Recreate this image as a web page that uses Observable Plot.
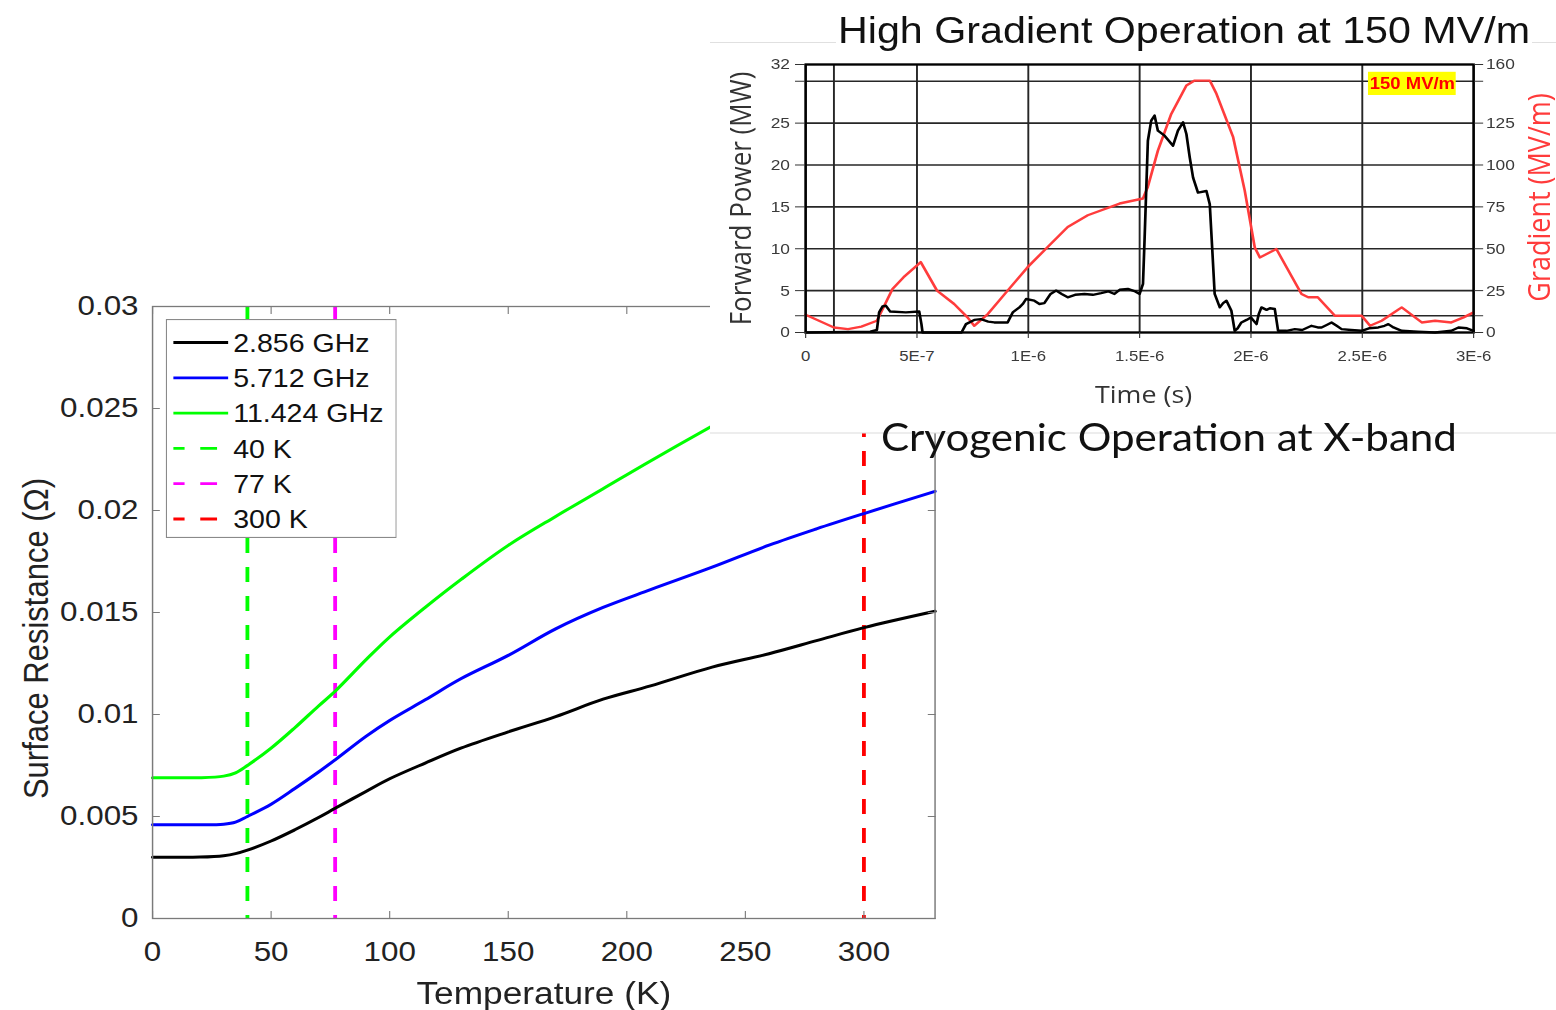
<!DOCTYPE html>
<html><head><meta charset="utf-8">
<script src="https://cdn.jsdelivr.net/npm/d3@7"></script>
<script src="https://cdn.jsdelivr.net/npm/@observablehq/plot@0.6"></script>
<style>
html,body{margin:0;padding:0;background:#fff;overflow:hidden;}
#root{position:relative;width:1389.29px;height:1010px;transform:scaleX(1.12);transform-origin:0 0;}
.abs{position:absolute;}
</style></head>
<body><div id="root"></div>
<script>
// ---------- main chart: surface resistance vs temperature ----------
const temperatures = [0,10,20,30,35,40,50,60,70,77,90,100,115,130,150,170,190,210,236,260,280,300,330];
const rs2856  = [0.00300,0.00300,0.00301,0.00308,0.00318,0.00335,0.00380,0.00435,0.00495,0.00540,0.00623,0.00685,0.00762,0.00835,0.00915,0.00990,0.01075,0.01140,0.01232,0.01298,0.01362,0.01426,0.01506];
const rs5712  = [0.00460,0.00460,0.00459,0.00462,0.00472,0.00500,0.00560,0.00637,0.00718,0.00778,0.00893,0.00971,0.01072,0.01175,0.01290,0.01420,0.01525,0.01612,0.01722,0.01830,0.01910,0.01985,0.02094];
const rs11424 = [0.00690,0.00690,0.00690,0.00698,0.00714,0.00750,0.00835,0.00935,0.01042,0.01114,0.01268,0.01380,0.01525,0.01661,0.01829,0.01971,0.02107,0.02243,0.02414];
const seriesNames  = ["2.856 GHz","5.712 GHz","11.424 GHz"];
const seriesColors = ["#000000","#0000ff","#00ff00"];
const markerTemps  = [40,77,300];
const markerNames  = ["40 K","77 K","300 K"];
const markerColors = ["#00ff00","#ff00ff","#ff0000"];
const xTicks = [0,50,100,150,200,250,300];
const yTicks = [0,0.005,0.01,0.015,0.02,0.025,0.03];
const yTickLabels = ["0","0.005","0.01","0.015","0.02","0.025","0.03"];

// ---------- inset: high gradient operation ----------
const powerTime = [0,0.29,0.32,0.33,0.345,0.36,0.38,0.45,0.51,0.52,0.525,0.70,0.72,0.757,0.787,0.82,0.847,0.907,0.93,0.96,0.975,0.99,1.027,1.05,1.072,1.10,1.125,1.15,1.177,1.21,1.252,1.29,1.327,1.36,1.387,1.41,1.447,1.48,1.50,1.515,1.522,1.537,1.552,1.567,1.582,1.612,1.65,1.672,1.695,1.71,1.725,1.74,1.762,1.80,1.815,1.826,1.837,1.86,1.875,1.89,1.912,1.927,1.94,1.957,1.98,2.0,2.025,2.035,2.047,2.07,2.085,2.107,2.122,2.16,2.197,2.23,2.272,2.30,2.317,2.34,2.362,2.385,2.407,2.45,2.497,2.53,2.572,2.60,2.617,2.64,2.677,2.75,2.827,2.90,2.932,2.97,3.0];
const forwardPower = [0,0.1,0.3,2.4,3.1,3.2,2.5,2.4,2.5,1.0,0,0,1.0,1.5,1.6,1.3,1.2,1.2,2.4,3.0,3.4,4.0,3.8,3.4,3.5,4.6,5.0,4.6,4.2,4.5,4.6,4.5,4.7,4.9,4.6,5.1,5.2,4.9,4.6,5.8,11,22.9,25.3,25.9,24.1,23.5,22.3,24.1,25.1,23.7,20.9,18.5,16.7,16.9,15.3,10,4.6,3.0,3.5,3.8,2.6,0.2,0.5,1.2,1.5,1.8,1.0,2.2,3.0,2.7,2.9,2.8,0.2,0.2,0.4,0.3,0.8,0.6,0.6,0.9,1.2,0.8,0.4,0.3,0.2,0.5,0.6,0.8,1.0,0.6,0.2,0.1,0,0.2,0.6,0.5,0.2];
const gradientTime = [0,0.127,0.19,0.25,0.32,0.39,0.44,0.517,0.59,0.667,0.727,0.757,0.818,0.907,0.997,1.087,1.177,1.267,1.41,1.515,1.537,1.582,1.642,1.71,1.747,1.815,1.845,1.92,1.972,2.017,2.04,2.114,2.227,2.257,2.30,2.377,2.497,2.535,2.587,2.677,2.767,2.827,2.90,2.955,3.0];
const gradient = [10.6,3,2,3.5,7,26,33,42,25,17,9,4,11,25,39,51,63,70,77,80,87,108.6,130.5,147.5,150.4,150.4,142.5,116.6,84.7,50.8,44.8,49.8,23,21,21,10,10,4,7,15,6,7,6,9,12];
const timeTicks = [0,0.5,1,1.5,2,2.5,3];           // microseconds
const timeTickLabels = ["0","5E-7","1E-6","1.5E-6","2E-6","2.5E-6","3E-6"];
const cursorTimes = [0.127];
const powerTicks = [0,5,10,15,20,25,32];
const powerMinorTicks = [2,30];
const gradientTicks = [0,25,50,75,100,125,160];
const gradientMinorTicks = [10,150];
const gradientPerMW = 5;   // 32 MW <-> 160 MV/m
const annotations = [{t: 2.725, gradient: 150, label: "150 MV/m"}];

const S = 1.12;   // horizontal stretch of the whole picture
const root = document.getElementById("root");
const sans = "'Liberation Sans', Arial, Helvetica, sans-serif";
const humanist = "'Open Sans', 'Noto Sans', sans-serif";

// ---------- build main ----------
const rows = [];
[rs2856, rs5712, rs11424].forEach((vals, k) => {
  vals.forEach((r, i) => rows.push({series: seriesNames[k], T: temperatures[i], R: r}));
});
const markers = markerTemps.map((t, i) => ({T: t, name: markerNames[i]}));

const mainW = 870;
const mainLeft = 152 / S, mainRight = 934.5 / S;
const main = Plot.plot({
  width: mainW, height: 1010,
  marginLeft: mainLeft, marginRight: mainW - mainRight, marginTop: 306, marginBottom: 92,
  x: {domain: [0, 330]},
  y: {domain: [0, 0.03]},
  color: {domain: [...seriesNames, ...markerNames], range: [...seriesColors, ...markerColors]},
  style: {fontFamily: sans, background: "white", overflow: "visible"},
  marks: [
    Plot.ruleX(markers, {x: "T", stroke: "name", strokeWidth: 3.4, strokeDasharray: "15,14"}),
    Plot.line(rows, {x: "T", y: "R", z: "series", stroke: "series", strokeWidth: 3, curve: "catmull-rom"}),
    Plot.frame({stroke: "#7a7a7a", strokeWidth: 1.3}),
    Plot.axisX({ticks: xTicks, tickFormat: d => String(d), tickSize: -7, tickPadding: 30, fontSize: 28, stroke: "#7a7a7a", fill: "#222", label: null}),
    Plot.axisX({anchor: "top", ticks: xTicks, tickFormat: () => "", tickSize: -7, stroke: "#7a7a7a", label: null}),
    Plot.axisY({ticks: yTicks, tickFormat: d => yTickLabels[yTicks.indexOf(d)], tickSize: -7, tickPadding: 19.5, fontSize: 28, stroke: "#7a7a7a", fill: "#222", label: null}),
    Plot.axisY({anchor: "right", ticks: yTicks, tickFormat: () => "", tickSize: -7, stroke: "#7a7a7a", label: null}),
    Plot.text(["Temperature (K)"], {text: d => d, frameAnchor: "bottom", textAnchor: "middle", dy: 85, lineAnchor: "bottom", fontSize: 31.5, fill: "#222"}),
    Plot.text(["Surface Resistance (Ω)"], {text: d => d, frameAnchor: "left", textAnchor: "middle", rotate: -90, lineAnchor: "bottom", dx: 42 - mainLeft, dy: 26, fontSize: 31, fill: "#222"})
  ]
});
main.style.position = "absolute"; main.style.left = "0px"; main.style.top = "0px";
root.appendChild(main);

// ---------- legend ----------
const legendItems = [
  ...seriesNames.map((n, i) => ({name: n, color: seriesColors[i], dash: null})),
  ...markerNames.map((n, i) => ({name: n, color: markerColors[i], dash: "10,14,15,20"}))
];
const legL = 148.2, legT = 319, legW = 206.3, legH = 219;
const leg = d3.select(root).append("svg").attr("class", "abs")
  .style("left", legL + "px").style("top", legT + "px")
  .attr("width", legW).attr("height", legH);
leg.append("rect").attr("x", 0.5).attr("y", 0.5).attr("width", legW - 1).attr("height", legH - 1)
  .attr("fill", "#fff").attr("stroke", "#8a8a8a").attr("stroke-width", 1.2);
legendItems.forEach((d, i) => {
  const cy = 23.5 + i * 35.3;
  leg.append("line").attr("x1", 6.8).attr("x2", 55.7).attr("y1", cy).attr("y2", cy)
    .attr("stroke", d.color).attr("stroke-width", 2.8).attr("stroke-dasharray", d.dash);
  leg.append("text").attr("x", 60.2).attr("y", cy + 9.2).text(d.name)
    .attr("font-family", sans).attr("font-size", 25.5).attr("fill", "#111");
});

// ---------- inset ----------
const insetL = 710 / S, insetW = 1389.29 - insetL, insetH = 433;
const inset = d3.select(root).append("div").attr("class", "abs")
  .style("left", insetL + "px").style("top", "0px")
  .style("width", insetW + "px").style("height", insetH + "px").style("background", "#fff");

const powerRows = powerTime.map((t, i) => ({t, p: forwardPower[i]}));
const gradRows = gradientTime.map((t, i) => ({t, g: gradient[i]}));
const pL = (805 - 710) / S, pR = (1473 - 710) / S;
const insetPlot = Plot.plot({
  width: insetW, height: insetH,
  marginLeft: pL, marginRight: insetW - pR, marginTop: 64, marginBottom: insetH - 332,
  x: {domain: [0, 3]},
  y: {domain: [0, 32]},
  style: {fontFamily: sans, background: "white", overflow: "visible"},
  marks: [
    Plot.gridX([...timeTicks, ...cursorTimes], {stroke: "#262626", strokeOpacity: 1, strokeWidth: 1.7}),
    Plot.gridY([...powerTicks, ...powerMinorTicks], {stroke: "#262626", strokeOpacity: 1, strokeWidth: 1.7}),
    Plot.rect(annotations, {x1: d => d.t - 0.197, x2: d => d.t + 0.197, y1: d => d.gradient / gradientPerMW - 1.7, y2: d => d.gradient / gradientPerMW + 1.07, fill: "#ffff00"}),
    Plot.text(annotations, {x: "t", y: d => d.gradient / gradientPerMW - 0.3, text: "label", fill: "#ff0000", fontWeight: "bold", fontSize: 16.5}),
    Plot.line(gradRows, {x: "t", y: d => d.g / gradientPerMW, stroke: "#ff3c3c", strokeWidth: 2.4}),
    Plot.line(powerRows, {x: "t", y: "p", stroke: "#000", strokeWidth: 2.4}),
    Plot.frame({stroke: "#000", strokeWidth: 2.2}),
    Plot.axisX({ticks: timeTicks, tickFormat: d => timeTickLabels[timeTicks.indexOf(d)], tickSize: 6, tickPadding: 12, fontSize: 15, stroke: "#333", fill: "#3a3a3a", label: null}),
    Plot.axisY({ticks: [...powerTicks, ...powerMinorTicks], tickFormat: d => powerTicks.includes(d) ? String(d) : "", tickSize: 9, tickPadding: 5, fontSize: 15.5, stroke: "#333", fill: "#3a3a3a", label: null}),
    Plot.axisY({anchor: "right", ticks: [...gradientTicks, ...gradientMinorTicks].map(g => g / gradientPerMW),
      tickFormat: d => { const g = Math.round(d * gradientPerMW); return gradientTicks.includes(g) ? String(g) : ""; },
      tickSize: 8, tickPadding: 3, fontSize: 15.5, stroke: "#333", fill: "#3a3a3a", label: null}),
    Plot.text(["Time (s)"], {text: d => d, frameAnchor: "bottom", textAnchor: "middle", dy: 71, dx: 3.5, lineAnchor: "bottom", fontSize: 24, fill: "#333", fontFamily: humanist}),
    Plot.text(["Forward Power (MW)"], {text: d => d, frameAnchor: "left", textAnchor: "middle", rotate: -90, lineAnchor: "bottom", dx: (750 - 710) / S - pL, dy: 0, fontSize: 26, fill: "#333", fontFamily: humanist}),
    Plot.text(["Gradient (MV/m)"], {text: d => d, frameAnchor: "right", textAnchor: "middle", rotate: -90, lineAnchor: "bottom", dx: (1549 - 710) / S - pR, dy: -1, fontSize: 27, fill: "#ff3b3b", fontFamily: humanist})
  ]
});
insetPlot.style.position = "absolute"; insetPlot.style.left = "0px"; insetPlot.style.top = "0px";
inset.node().appendChild(insetPlot);

// ---------- overlay texts and slide edges ----------
const ov = d3.select(root).append("svg").attr("class", "abs")
  .style("left", "0px").style("top", "0px").style("pointer-events", "none").style("overflow", "visible")
  .attr("width", 1389.29).attr("height", 1010);
ov.append("line").attr("x1", insetL).attr("x2", 1389.29).attr("y1", 42.5).attr("y2", 42.5).attr("stroke", "#e0e0e0").attr("stroke-width", 1);
ov.append("rect").attr("x", 836 / S).attr("y", 36).attr("width", (1532 - 836) / S).attr("height", 12).attr("fill", "#fff");
ov.append("line").attr("x1", insetL).attr("x2", 1389.29).attr("y1", 433).attr("y2", 433).attr("stroke", "#dcdcdc").attr("stroke-width", 1);
ov.append("text").attr("x", 838 / S).attr("y", 43.5).text("High Gradient Operation at 150 MV/m")
  .attr("font-family", sans).attr("font-size", 37).attr("fill", "#111")
  .attr("textLength", (1530 - 838) / S).attr("lengthAdjust", "spacingAndGlyphs");
ov.append("text").attr("x", 881 / S).attr("y", 451).text("Cryogenic Operation at X-band")
  .attr("font-family", "Lato, 'Open Sans', sans-serif").attr("font-size", 38.5).attr("fill", "#111")
  .attr("textLength", (1457 - 881) / S).attr("lengthAdjust", "spacingAndGlyphs");
</script>
</body></html>
